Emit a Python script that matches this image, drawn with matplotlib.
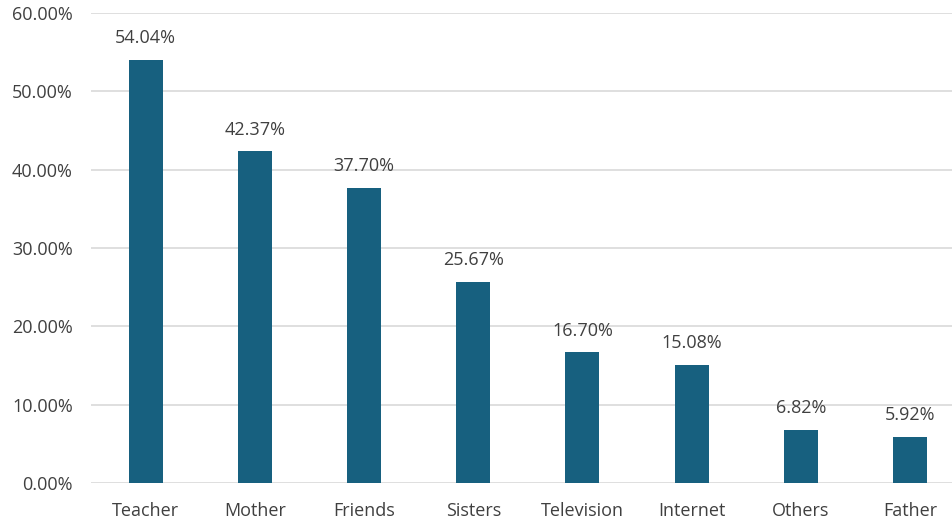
import matplotlib
matplotlib.use('Agg')
import matplotlib.pyplot as plt
from matplotlib.ticker import FuncFormatter

categories = ['Teacher', 'Mother', 'Friends', 'Sisters', 'Television', 'Internet', 'Others', 'Father']
values = [54.04, 42.37, 37.70, 25.67, 16.70, 15.08, 6.82, 5.92]
y_ticks = [0, 10, 20, 30, 40, 50, 60]

plt.rcParams['font.family'] = ['Open Sans', 'DejaVu Sans']
text_color = '#404040'

fig = plt.figure(figsize=(9.53, 5.22), dpi=100)
ax = fig.add_axes([91 / 953, 39 / 522, 1 - 91 / 953, 470 / 522])

x = list(range(len(categories)))
bars = ax.bar(x, values, width=0.31, color='#17607f', zorder=3)

for xi, v in zip(x, values):
    ax.text(xi, v + 1.6, f'{v:.2f}%', ha='center', va='bottom',
            fontsize=13, color=text_color)

ax.set_ylim(0, 60)
ax.set_xlim(-0.5, -0.5 + (953 - 91) / 109.2)
ax.set_yticks(y_ticks)
ax.yaxis.set_major_formatter(FuncFormatter(lambda v, p: f'{v:.2f}%'))
ax.set_xticks(x)
ax.set_xticklabels(categories)
ax.tick_params(axis='both', length=0, labelsize=13, labelcolor=text_color)
ax.tick_params(axis='y', pad=13)
ax.tick_params(axis='x', pad=14)

ax.grid(axis='y', color='#d9d9d9', linewidth=1.2, zorder=0)
for s in ax.spines.values():
    s.set_visible(False)

fig.savefig('out.png', dpi=100)
